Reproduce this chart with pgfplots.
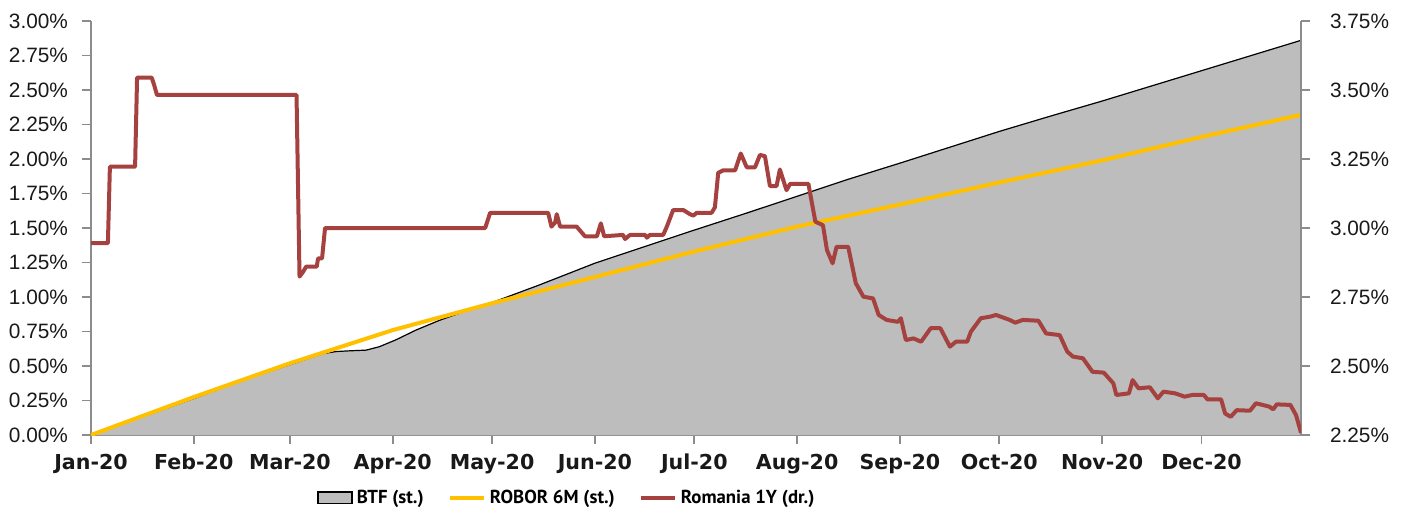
\documentclass[border=0pt]{standalone}
\usepackage{pgfplots}
\usepackage{pgfplotstable}
\pgfplotsset{compat=1.18}
\usepackage{fontspec}
\setmainfont{Liberation Sans}
\newfontfamily\boldlab{DejaVu Sans}
\newfontfamily\legfont{PT Sans}

\definecolor{romred}{HTML}{A5423F}
\definecolor{robor}{HTML}{FFC000}
\definecolor{btfgray}{HTML}{BDBDBD}
\definecolor{axgray}{HTML}{8C8C8C}

% x = day of year 2020 (0 = 1 Jan)
\pgfplotstableread{
x y
0 0
10 0.085
20 0.17
31 0.265
45 0.39
60 0.51
70 0.59
74 0.605
78 0.61
83 0.615
87 0.64
92 0.69
98 0.76
105 0.83
112 0.89
118 0.935
121 0.96
135 1.085
152 1.245
167 1.365
182 1.485
198 1.61
213 1.73
228 1.85
244 1.97
259 2.085
274 2.2
290 2.315
305 2.42
320 2.53
335 2.64
350 2.75
365 2.86
}\btf

\pgfplotstableread{
x y
0 0
31 0.275
60 0.52
91 0.76
121 0.955
152 1.145
182 1.33
213 1.51
244 1.67
274 1.83
305 1.99
335 2.16
365 2.32
}\robor

\pgfplotstableread{
x y
0 2.945
5.1 2.945
5.7 3.222
13.3 3.222
13.9 3.545
18.3 3.545
19.0 3.52
19.9 3.482
62.0 3.482
62.9 2.824
63.9 2.84
64.9 2.86
68.1 2.86
68.5 2.89
69.7 2.89
70.6 3.0
118.9 3.0
120.4 3.055
137.9 3.055
138.9 3.005
140.0 3.02
140.5 3.05
141.5 3.005
146.5 3.005
149.0 2.97
152.6 2.97
153.8 3.017
154.8 2.97
160.5 2.975
161.1 2.96
162.6 2.975
167.1 2.975
167.7 2.965
168.6 2.975
172.6 2.975
173.7 3.005
175.6 3.065
178.7 3.065
180.7 3.05
181.7 3.045
182.7 3.055
187.2 3.055
188.2 3.075
189.2 3.2
190.7 3.209
194.3 3.209
196.0 3.27
197.8 3.22
200.3 3.22
201.8 3.265
203.3 3.26
204.8 3.152
206.8 3.152
207.8 3.212
209.8 3.137
210.9 3.16
216.4 3.16
218.5 3.023
220.8 3.01
222.0 2.92
223.7 2.872
224.9 2.932
228.4 2.932
230.7 2.80
233.0 2.751
235.9 2.745
237.6 2.685
240.0 2.667
243.4 2.66
244.3 2.673
245.8 2.594
248.1 2.6
250.4 2.588
253.3 2.637
256.2 2.637
259.1 2.57
260.9 2.588
264.3 2.588
265.4 2.624
268.4 2.673
271.3 2.679
273.0 2.685
277.1 2.667
278.8 2.657
281.1 2.667
285.8 2.664
288.1 2.618
292.2 2.612
294.5 2.552
296.2 2.534
299.2 2.528
302.1 2.479
305.5 2.476
308.4 2.437
309.3 2.395
313.1 2.401
314.2 2.449
316.0 2.419
319.4 2.423
321.8 2.383
323.5 2.407
327.0 2.401
329.9 2.389
332.2 2.395
335.7 2.395
336.8 2.379
340.9 2.379
342.1 2.328
343.8 2.316
345.6 2.34
349.6 2.338
351.4 2.365
355.4 2.353
356.6 2.343
357.7 2.361
361.8 2.359
363.5 2.322
365 2.258
}\romania

\pgfplotsset{
  common/.style={
    scale only axis,
    width=605pt, height=207pt,
    at={(0,0)}, anchor=south west,
    xmin=0, xmax=365,
    tick align=outside,
    major tick length=4.5pt,
    axis line style={axgray, line width=0.9pt, -},
    major tick style={draw=axgray, line width=0.9pt},
    tick label style={font=\fontsize{10.4}{12}\selectfont, text=black!90},
    /pgf/number format/assume math mode=true,
  }
}

\begin{document}
\begin{tikzpicture}
\begin{axis}[
  common,
  axis x line*=bottom, axis y line*=left,
  ymin=0, ymax=3,
  ytick={0,0.25,...,3},
  yticklabel={\pgfmathprintnumber[fixed,fixed zerofill,precision=2]{\tick}\%},
  yticklabel style={xshift=-3.5pt},
  xtick={0,31,60,91,121,152,182,213,244,274,305,335},
  xticklabels={Jan-20,Feb-20,Mar-20,Apr-20,May-20,Jun-20,Jul-20,Aug-20,Sep-20,Oct-20,Nov-20,Dec-20},
  xticklabel style={font=\boldlab\bfseries\fontsize{10.3}{12}\selectfont, yshift=-1.5pt},
  legend columns=3,
  legend style={draw=none, fill=none, at={(0.394,-0.152)}, anchor=center,
    font=\legfont\bfseries\fontsize{9.4}{12}\selectfont,
    /tikz/every even column/.append style={column sep=10pt}},
  legend cell align=left,
]
\addplot[fill=btfgray, draw=none, forget plot] table {\btf} \closedcycle;
\addplot[black, line width=0.6pt, forget plot] table {\btf};
\addplot[black, line width=0.6pt, forget plot] coordinates {(365,0) (365,2.86)};
\addplot[robor, line width=2pt, forget plot] table {\robor};
\addlegendimage{area legend, fill=btfgray, draw=black, line width=0.8pt}
\addlegendentry{BTF (st.)}
\addlegendimage{line legend, robor, line width=2pt}
\addlegendentry{ROBOR 6M (st.)}
\addlegendimage{line legend, romred, line width=2pt}
\addlegendentry{Romania 1Y (dr.)}
\end{axis}
\begin{axis}[
  common,
  axis x line=none, axis y line*=right,
  ymin=2.25, ymax=3.75,
  ytick={2.25,2.5,...,3.75},
  yticklabel={\pgfmathprintnumber[fixed,fixed zerofill,precision=2]{\tick}\%},
  yticklabel style={xshift=6.5pt},
]
\addplot[romred, line width=2pt, line join=round] table {\romania};
\end{axis}
\pgfresetboundingbox
\path (-45.5pt,-37.5pt) rectangle (655pt,217.5pt);
\end{tikzpicture}
\end{document}
